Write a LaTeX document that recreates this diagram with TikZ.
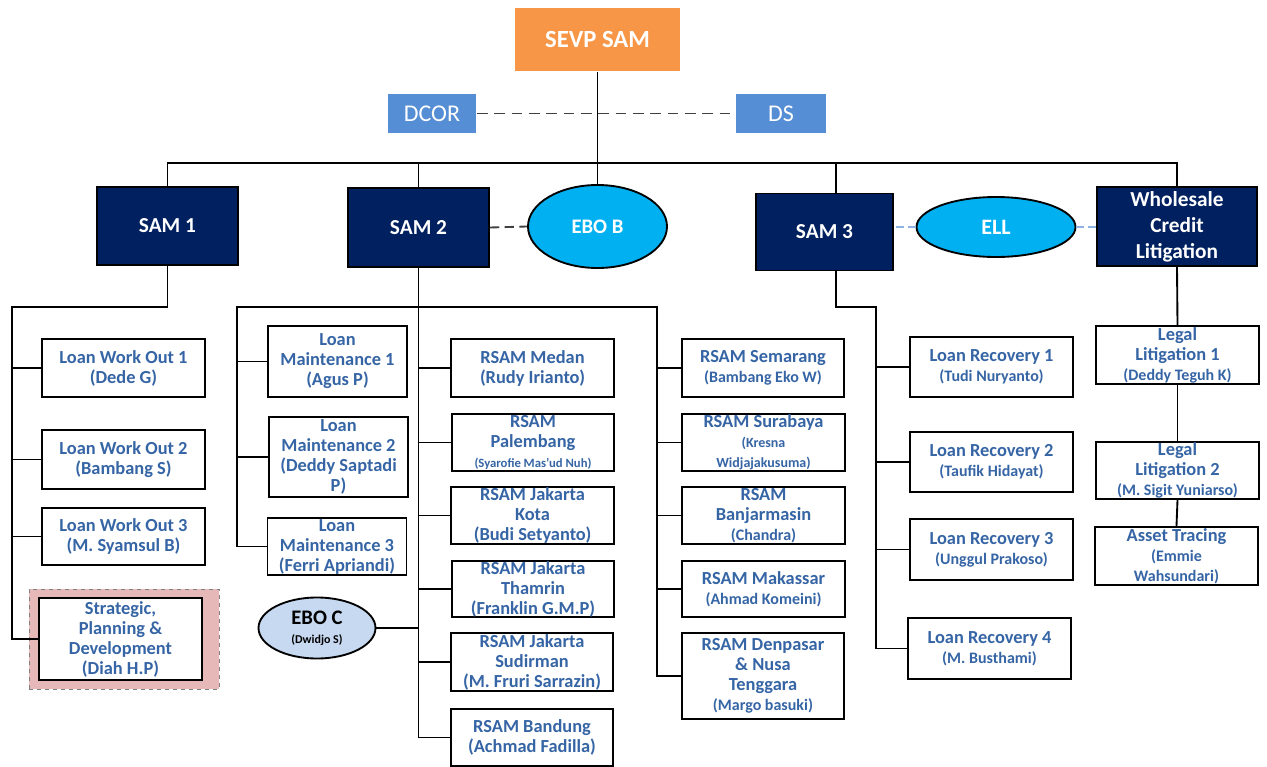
\documentclass[tikz,border=0pt]{standalone}
\usepackage{fontspec}
\setmainfont{Carlito}
\usetikzlibrary{shapes.geometric}
\definecolor{sevporange}{HTML}{F79646}
\definecolor{staffblue}{HTML}{558ED5}
\definecolor{samnavy}{HTML}{002060}
\definecolor{eboblue}{HTML}{00B0F0}
\definecolor{ebopale}{HTML}{C6D9F1}
\definecolor{unittext}{HTML}{3665A5}
\definecolor{stratpink}{HTML}{E6B9B8}
\definecolor{linkblue}{HTML}{8EB4E3}
\definecolor{dashgray}{HTML}{404040}
\newcommand{\nm}[2][12]{{\fontsize{#1}{15}\selectfont #2}}

\begin{document}
\begin{tikzpicture}[x=0.75pt,y=-0.75pt,line width=1.4pt,
    unit/.style={draw=black,line width=1.4pt,fill=white,text=unittext,
      font=\fontsize{13.8}{15}\selectfont\bfseries,align=center,
      inner sep=0pt,minimum width=122pt},
    sam/.style={draw=black,line width=1.4pt,fill=samnavy,text=white,
      font=\fontsize{16}{19.5}\selectfont\bfseries,align=center,inner sep=0pt},
    staff/.style={fill=staffblue,text=white,font=\fontsize{18}{20}\selectfont,
      minimum height=29.25pt,inner sep=0pt},
    ebo/.style={ellipse,draw=black,line width=1.4pt,fill=eboblue,text=white,
      font=\fontsize{15.5}{17}\selectfont\bfseries,align=center,inner sep=0pt}]
  \useasboundingbox (0,0) rectangle (1267,767);

  % top of the chart
  \node[fill=sevporange,text=white,font=\fontsize{18.5}{20}\selectfont\bfseries,
    minimum width=123.75pt,minimum height=47.25pt] (sevp) at (597.5,39.5) {SEVP SAM};
  \node[staff,minimum width=66pt] (dcor) at (432,113.5) {DCOR};
  \node[staff,minimum width=67.5pt] (ds) at (781,113.5) {DS};

  \node[sam,minimum width=105.75pt,minimum height=58.5pt] (sam1) at (167.5,226) {SAM 1};
  \node[sam,minimum width=105.75pt,minimum height=59.25pt] (sam2) at (418.5,227.5) {SAM 2};
  \node[sam,minimum width=102.75pt,minimum height=57.75pt] (sam3) at (824.5,232) {SAM 3};
  \node[sam,minimum width=120pt,minimum height=59.25pt] (wcl) at (1177,226.5)
    {Wholesale\\Credit\\Litigation};
  \node[ebo,minimum width=104.25pt,minimum height=62.25pt] (ebob) at (597.5,226.5) {EBO B};
  \node[ebo,font=\fontsize{16.5}{18}\selectfont\bfseries,minimum width=119.25pt,
    minimum height=45pt] (ell) at (996,227) {ELL};

  % SAM 1 units
  \node[fill=stratpink,draw=gray,dashed,line width=0.6pt,minimum width=142.5pt,
    minimum height=75pt] (stratbg) at (124,639) {};
  \node[unit,minimum height=43.5pt] (lwo1) at (123.5,368) {Loan Work Out 1\\(Dede G)};
  \node[unit,minimum height=44.25pt] (lwo2) at (123.5,459.5) {Loan Work Out 2\\(Bambang S)};
  \node[unit,minimum height=42.75pt] (lwo3) at (123.5,536.5) {Loan Work Out 3\\(M. Syamsul B)};
  \node[unit,minimum height=61.5pt] (strat) at (120.5,639)
    {Strategic,\\Planning \&\\Development\\(Diah H.P)};

  % SAM 2 units
  \node[unit,minimum width=104.25pt,minimum height=53.25pt] (lm1) at (337.5,361.5)
    {Loan\\Maintenance 1\\(Agus P)};
  \node[unit,minimum width=104.25pt,minimum height=60pt] (lm2) at (338.5,457)
    {Loan\\Maintenance 2\\(Deddy Saptadi\\P)};
  \node[unit,minimum width=104.25pt,minimum height=42.75pt] (lm3) at (337,546.5)
    {Loan\\Maintenance 3\\(Ferri Apriandi)};
  \node[ebo,fill=ebopale,text=black,minimum width=87.75pt,minimum height=45.75pt]
    (eboc) at (317,628) {EBO C\\[-3pt]{\fontsize{9}{10}\selectfont (Dwidjo S)}};

  \node[unit,minimum height=43.5pt] (medan) at (532.5,368) {RSAM Medan\\(Rudy Irianto)};
  \node[unit,minimum height=42.75pt] (palembang) at (533,442.5)
    {RSAM\\Palembang\\\nm[9.5]{(Syarofie Mas’ud Nuh)}};
  \node[unit,minimum height=42.75pt] (kota) at (532.5,515.5)
    {RSAM Jakarta\\Kota\\(Budi Setyanto)};
  \node[unit,minimum height=42pt] (thamrin) at (533,589)
    {RSAM Jakarta\\Thamrin\\(Franklin G.M.P)};
  \node[unit,minimum height=43.5pt] (sudirman) at (532,662)
    {RSAM Jakarta\\Sudirman\\(M. Fruri Sarrazin)};
  \node[unit,minimum height=42.75pt] (bandung) at (532,737.5)
    {RSAM Bandung\\(Achmad Fadilla)};

  \node[unit,minimum height=43.5pt] (semarang) at (763,368)
    {RSAM Semarang\\\nm{(Bambang Eko W)}};
  \node[unit,minimum height=42.75pt] (surabaya) at (763.5,442.5)
    {RSAM Surabaya\\\nm[10.5]{(Kresna}\\\nm[10.5]{Widjajakusuma)}};
  \node[unit,minimum height=42.75pt] (banjar) at (763.5,515.5)
    {RSAM\\Banjarmasin\\\nm{(Chandra)}};
  \node[unit,minimum height=42pt] (makassar) at (763.5,589)
    {RSAM Makassar\\\nm{(Ahmad Komeini)}};
  \node[unit,minimum height=64.5pt] (denpasar) at (763,676)
    {RSAM Denpasar\\\& Nusa\\Tenggara\\\nm{(Margo basuki)}};

  % SAM 3 units
  \node[unit,minimum height=45pt] (lr1) at (991.5,367) {Loan Recovery 1\\\nm{(Tudi Nuryanto)}};
  \node[unit,minimum height=45pt] (lr2) at (991.5,462) {Loan Recovery 2\\\nm{(Taufik Hidayat)}};
  \node[unit,minimum height=45.75pt] (lr3) at (991.5,549.5) {Loan Recovery 3\\\nm{(Unggul Prakoso)}};
  \node[unit,minimum height=45.75pt] (lr4) at (989.5,648.5) {Loan Recovery 4\\\nm{(M. Busthami)}};

  % litigation units
  \node[unit,minimum height=43.5pt] (ll1) at (1177.5,355)
    {Legal\\Litigation 1\\\nm{(Deddy Teguh K)}};
  \node[unit,minimum height=42.75pt] (ll2) at (1177.5,470.5)
    {Legal\\Litigation 2\\\nm{(M. Sigit Yuniarso)}};
  \node[unit,minimum height=43.5pt] (trace) at (1176.5,556)
    {Asset Tracing\\\nm{(Emmie}\\\nm{Wahsundari)}};

  % lines from the top
  \coordinate (busl) at (167.5,163);
  \coordinate (busr) at (1177,163);
  \draw (sevp.south) -- (ebob.north);
  \draw[dashgray,dash pattern=on 8pt off 5pt] (dcor.east) -- (ds.west);
  \draw (sam1.north) -- (busl) -- (busr) -- (wcl.north);
  \draw (sam2.north) -- (sam2.north |- busl);
  \draw ([xshift=8.6pt]sam3.north) -- ([xshift=8.6pt]sam3.north |- busl);
  \draw[dashgray,dash pattern=on 7pt off 4pt] (sam2.east) -- (ebob.west);
  \draw[linkblue,dash pattern=on 6pt off 3pt] (ell.west) -- (ell.west -| sam3.east);
  \draw[linkblue,dash pattern=on 6pt off 3pt] (ell.east) -- (ell.east -| wcl.west);

  % SAM 1 branch
  \coordinate (spinea) at (12,307);
  \draw (sam1.south) -- (sam1.south |- spinea) -- (spinea) -- (spinea |- strat.west) -- (strat.west);
  \foreach \u in {lwo1,lwo2,lwo3}{% one branch for each unit
    \draw (spinea |- \u.west) -- (\u.west);
  }

  % SAM 2 branch
  \coordinate (spineb) at (237,307);
  \coordinate (spinec) at (657,307);
  \draw (sam2.south) -- (sam2.south |- bandung.west) -- (bandung.west);
  \draw (spineb |- lm3.west) -- (spineb) -- (spinec) -- (spinec |- denpasar.west) -- (denpasar.west);
  \draw (spineb |- lm3.west) -- (lm3.west);
  \foreach \u in {lm1,lm2}{%
    \draw (spineb |- \u.west) -- (\u.west);
  }
  \foreach \u in {medan,palembang,kota,thamrin,sudirman}{%
    \draw (sam2.south |- \u.west) -- (\u.west);
  }
  \foreach \u in {semarang,surabaya,banjar,makassar}{%
    \draw (spinec |- \u.west) -- (\u.west);
  }
  \draw (eboc.east) -- (eboc.east -| sam2.south);

  % SAM 3 branch
  \coordinate (spined) at (876,307);
  \draw ([xshift=8.6pt]sam3.south) -- ([xshift=8.6pt]sam3.south |- spined) -- (spined)
    -- (spined |- lr4.west) -- (lr4.west);
  \foreach \u in {lr1,lr2,lr3}{%
    \draw (spined |- \u.west) -- (\u.west);
  }

  % litigation chain
  \draw (wcl.south) -- (ll1.north);
  \draw (ll1.south) -- (ll2.north);
  \draw (ll2.south) -- (trace.north);
\end{tikzpicture}
\end{document}
